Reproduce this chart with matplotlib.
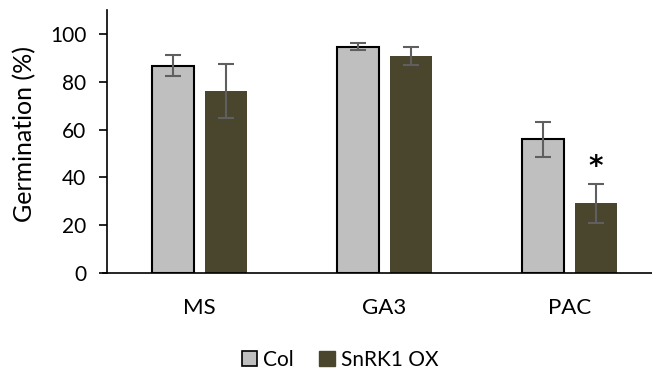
import matplotlib
matplotlib.use("Agg")
import matplotlib.pyplot as plt
import numpy as np
from matplotlib.patches import Patch

categories = ["MS", "GA3", "PAC"]
series_names = ["Col", "SnRK1 OX"]
col_values = [86.7, 94.6, 55.9]
col_err = [4.5, 1.4, 7.3]
ox_values = [76.1, 90.9, 29.2]
ox_err = [11.4, 3.7, 8.1]
yticks = [0, 20, 40, 60, 80, 100]

plt.rcParams['font.family'] = ['Lato', 'DejaVu Sans']

fig = plt.figure(figsize=(6.52, 3.69), dpi=100)
ax = fig.add_axes([107/652, 1-273/369, 555/652, 263/369])

x = np.arange(len(categories))
w = 0.227
off = 0.143
col_color = "#BFBFBF"
ox_color = "#4A452D"
err_color = "#5F5F5F"

ax.bar(x - off, col_values, w, color=col_color, edgecolor="black", linewidth=1.5, zorder=2)
ax.bar(x + off, ox_values, w, color=ox_color, edgecolor=ox_color, linewidth=0, zorder=2)
ax.errorbar(x - off, col_values, yerr=col_err, fmt='none', ecolor=err_color,
            elinewidth=1.5, capsize=5.5, capthick=1.5, zorder=3)
ax.errorbar(x + off, ox_values, yerr=ox_err, fmt='none', ecolor=err_color,
            elinewidth=1.5, capsize=5.5, capthick=1.5, zorder=3)

# significance asterisk on PAC SnRK1 OX
ax.text(x[2] + off, ox_values[2] + ox_err[2] + 7.0, "*", ha="center", va="center",
        fontsize=20, fontweight="bold", family=["DejaVu Sans"])

ax.set_xlim(-0.5, 2.5)
ax.set_ylim(0, 110)
ax.set_yticks(yticks)
ax.set_xticks(x)
ax.set_xticklabels(categories, fontsize=16)
ax.tick_params(axis='y', labelsize=15, length=6, width=1.2, pad=9)
ax.tick_params(axis='x', length=0, pad=18)
ax.spines['top'].set_visible(False)
ax.spines['right'].set_visible(False)
ax.spines['left'].set_linewidth(1.2)
ax.spines['bottom'].set_linewidth(1.2)
ax.spines['bottom'].set_bounds(-0.52, 2.5)
ax.set_ylabel("Germination (%)", fontsize=18)
ax.yaxis.set_label_coords(-0.128, 0.53)

handles = [Patch(facecolor=col_color, edgecolor="black", linewidth=1.2),
           Patch(facecolor=ox_color, edgecolor=ox_color)]
fig.legend(handles, series_names, loc="center", bbox_to_anchor=(340/652, 1-360/369),
           ncol=2, frameon=False, fontsize=15, handlelength=0.75, handleheight=0.75,
           handletextpad=0.3, columnspacing=1.2, borderpad=0)

fig.savefig("out.png", dpi=100)
